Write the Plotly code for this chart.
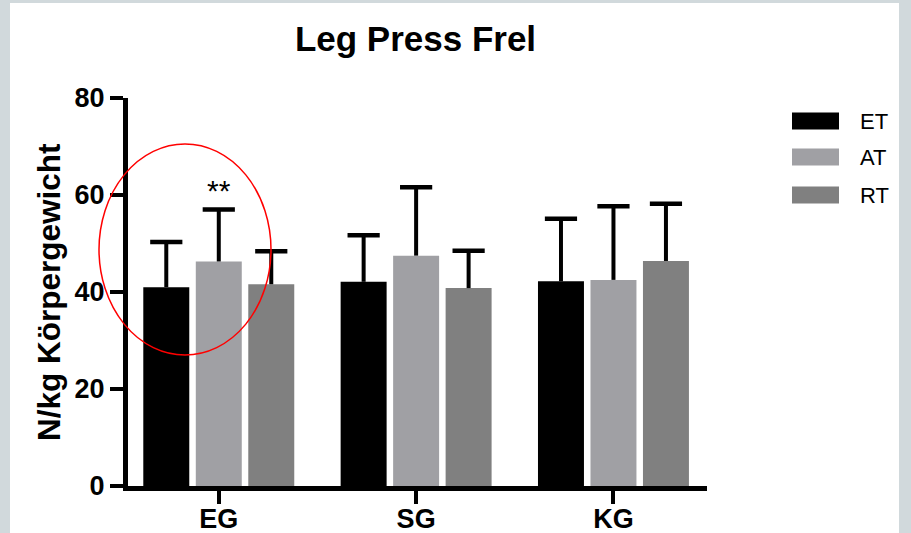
import plotly.graph_objects as go

# ---- data ----
groups = ["EG", "SG", "KG"]
series = ["ET", "AT", "RT"]
et_mean = [41.0, 42.1, 42.2]
at_mean = [46.3, 47.5, 42.5]
rt_mean = [41.6, 40.8, 46.4]
et_sd = [9.3, 9.6, 12.9]
at_sd = [10.7, 14.1, 15.2]
rt_sd = [6.8, 7.7, 11.8]
colors = ["#000000", "#a0a0a4", "#808080"]
y_ticks = [0, 20, 40, 60, 80]
title_text = "Leg Press Frel"
y_title = "N/kg Körpergewicht"
sig_label = "**"

means = [et_mean, at_mean, rt_mean]
sds = [et_sd, at_sd, rt_sd]

# ---- layout geometry (pixels) ----
W, H = 911, 533
L, R, T, B = 128, 204, 98, 47
PW, PH = W - L - R, H - T - B
xr = [-0.46, 2.474]
FONT = "Liberation Sans, Arial, Helvetica, sans-serif"

def px_x(px):
    return (px - L) / PW

def px_y(py):
    return (H - B - py) / PH

bar_w = 0.233
step = 0.266
offsets = [-step, 0.0, step]

fig = go.Figure()
for j, name in enumerate(series):
    xs = [i + offsets[j] for i in range(len(groups))]
    fig.add_trace(go.Bar(
        x=xs, y=means[j], width=bar_w, name=name,
        marker=dict(color=colors[j], line=dict(width=0)),
        error_y=dict(type="data", symmetric=False, array=sds[j],
                     arrayminus=[0] * len(groups), width=0,
                     thickness=4, color="#000000"),
        showlegend=False, hoverinfo="skip",
    ))
    tops = [m + s for m, s in zip(means[j], sds[j])]
    fig.add_trace(go.Scatter(
        x=xs, y=tops, mode="markers", showlegend=False, hoverinfo="skip",
        marker=dict(symbol="line-ew", size=23, color="#000000",
                    line=dict(color="#000000", width=4.5)),
        cliponaxis=False,
    ))

shapes = []
# white panel on gray background
shapes.append(dict(type="rect", xref="paper", yref="paper", layer="below",
                   x0=px_x(10), x1=px_x(899), y0=px_y(545), y1=px_y(3),
                   fillcolor="white", line=dict(width=0)))
# red ellipse
shapes.append(dict(type="circle", xref="paper", yref="paper",
                   x0=px_x(99), x1=px_x(271), y0=px_y(355), y1=px_y(144),
                   line=dict(color="#ff0000", width=1.5)))

annotations = []
# legend
leg_y = [121, 157, 195]
for j, name in enumerate(series):
    shapes.append(dict(type="rect", xref="paper", yref="paper",
                       x0=px_x(792), x1=px_x(839),
                       y0=px_y(leg_y[j] + 8.5), y1=px_y(leg_y[j] - 8.5),
                       fillcolor=colors[j], line=dict(width=0)))
    annotations.append(dict(text=name, xref="paper", yref="paper",
                            x=px_x(858), y=px_y(leg_y[j]), xanchor="left",
                            yanchor="middle", showarrow=False,
                            font=dict(family=FONT, size=22, color="black")))
# y title
annotations.append(dict(text="<b>" + y_title + "</b>", textangle=-90,
                        xref="paper", yref="paper", x=px_x(49), y=0.5,
                        xanchor="center", yanchor="middle", showarrow=False,
                        font=dict(family=FONT, size=31.5, color="black")))
# significance
annotations.append(dict(text=sig_label, xref="x", yref="y", x=0, y=61.0,
                        xanchor="center", yanchor="middle", showarrow=False,
                        font=dict(family=FONT, size=30, color="black")))

fig.update_layout(
    width=W, height=H, autosize=False,
    margin=dict(l=L, r=R, t=T, b=B, pad=0, autoexpand=False),
    paper_bgcolor="#d1d9dc", plot_bgcolor="white",
    title=dict(text="<b>" + title_text + "</b>", x=415.5 / W, xref="container",
               xanchor="center", y=1 - 39 / H, yref="container", yanchor="middle",
               font=dict(family=FONT, size=35, color="black"), automargin=False),
    barmode="overlay",
    shapes=shapes, annotations=annotations,
    xaxis=dict(range=xr, tickmode="array", tickvals=list(range(len(groups))),
               ticktext=["<b>" + g + "</b>" for g in groups],
               showline=True, linewidth=5, linecolor="black",
               ticks="outside", ticklen=13, tickwidth=4, tickcolor="black",
               ticklabelstandoff=-8,
               showgrid=False, zeroline=False, automargin=False,
               tickfont=dict(family=FONT, size=27, color="black")),
    yaxis=dict(range=[0, 80], tickmode="array", tickvals=y_ticks,
               ticktext=["<b>%d</b>" % v for v in y_ticks],
               showline=True, linewidth=5, linecolor="black",
               ticks="outside", ticklen=13, tickwidth=4, tickcolor="black",
               showgrid=False, zeroline=False, automargin=False,
               tickfont=dict(family=FONT, size=27, color="black")),
)

fig.write_html("out.html", config={"responsive": False, "displayModeBar": False},
               post_script="document.body.style.margin='0';"
                           "document.body.style.overflow='hidden';")
